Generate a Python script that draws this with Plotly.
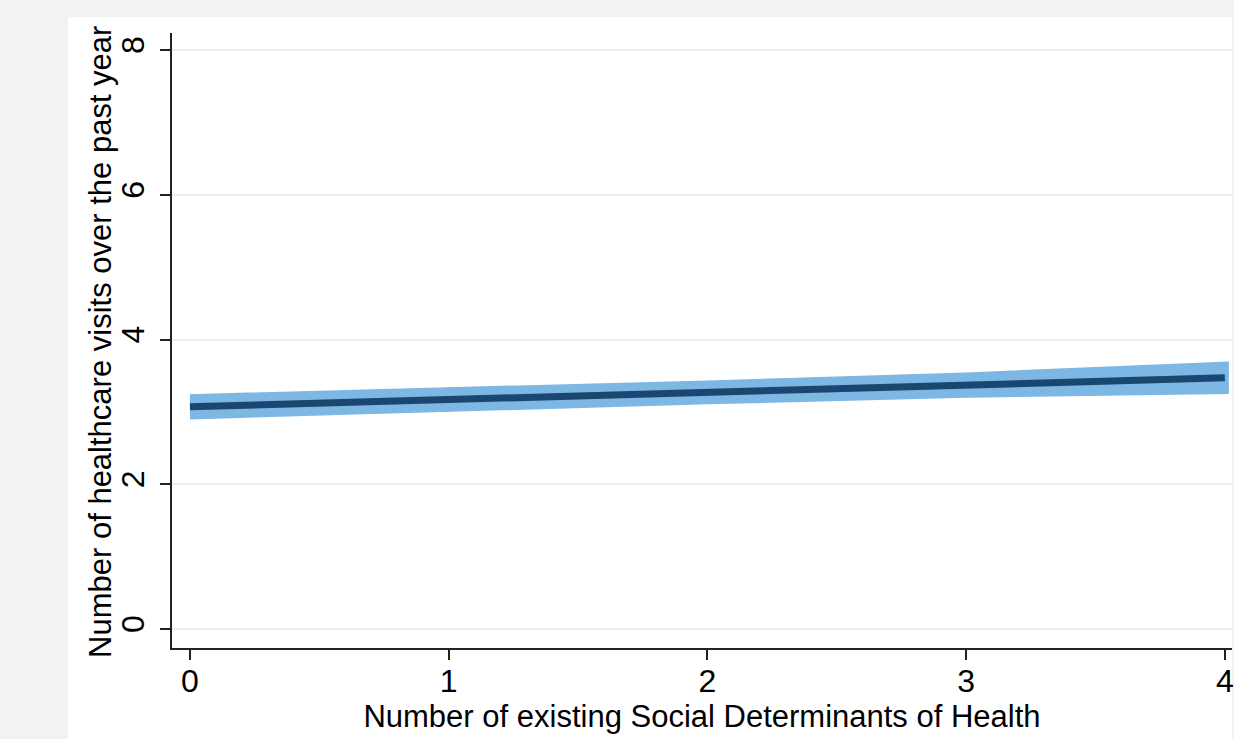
import plotly.graph_objects as go

# Predicted visits by number of SDOH, with 95% confidence limits
sdoh_count = [0, 1, 2, 3, 4]
predicted_visits = [3.07, 3.17, 3.27, 3.37, 3.47]
ci_lower = [2.95, 3.06, 3.16, 3.25, 3.30]
ci_upper = [3.19, 3.28, 3.38, 3.49, 3.64]

x_ticks = [0, 1, 2, 3, 4]
y_ticks = [0, 2, 4, 6, 8]

x_title = "Number of existing Social Determinants of Health"
y_title = "Number of healthcare visits over the past year"

W, H = 1234, 739
L, T, B = 172, 33, 91
PW, PH = W - L, H - T - B

band_color = "#7db7e4"
line_color = "#1a476f"
font_family = "Liberation Sans, Arial, Helvetica, sans-serif"

fig = go.Figure()

# Confidence band as a closed polygon
fig.add_trace(go.Scatter(
    x=sdoh_count + sdoh_count[::-1],
    y=ci_upper + ci_lower[::-1],
    fill="toself",
    fillcolor=band_color,
    mode="lines",
    line=dict(color=band_color, width=8),
    hoverinfo="skip",
    showlegend=False,
))

# Predicted line
fig.add_trace(go.Scatter(
    x=sdoh_count,
    y=predicted_visits,
    mode="lines",
    line=dict(color=line_color, width=7),
    showlegend=False,
))

fig.update_layout(
    width=W,
    height=H,
    margin=dict(l=L, r=0, t=T, b=B, pad=0),
    paper_bgcolor="#f2f2f2",
    plot_bgcolor="white",
    font=dict(family=font_family, size=31, color="black"),
    shapes=[dict(
        type="rect", xref="paper", yref="paper", layer="below",
        x0=-(L - 68) / PW, x1=1.0,
        y0=-B / PH, y1=1 + (T - 17) / PH,
        fillcolor="white", line=dict(width=0),
    )],
    annotations=[dict(
        text=y_title, textangle=-90,
        xref="paper", yref="paper",
        x=-(L - 120) / PW, y=0.497,
        xanchor="right", yanchor="middle",
        showarrow=False, font=dict(size=31),
    )],
)

fig.update_xaxes(
    range=[-0.0694, 4.0276],
    tickvals=x_ticks,
    ticks="outside", ticklen=10, tickwidth=1.5, tickcolor="#222",
    showline=True, linecolor="#222", linewidth=2,
    showgrid=False, zeroline=False,
    ticklabeloverflow="allow",
    ticklabelstandoff=-6,
    tickfont=dict(size=32),
    title=dict(text=x_title, font=dict(size=31), standoff=0),
)

fig.update_yaxes(
    range=[-0.2625, 8.235],
    tickvals=y_ticks,
    tickangle=-90,
    ticks="outside", ticklen=10, tickwidth=1.5, tickcolor="#222",
    showline=True, linecolor="#222", linewidth=2,
    showgrid=True, gridcolor="#e6eff1", gridwidth=2,
    zeroline=False,
    ticklabelstandoff=3,
    tickfont=dict(size=32),
)

fig.write_html("out.html")
